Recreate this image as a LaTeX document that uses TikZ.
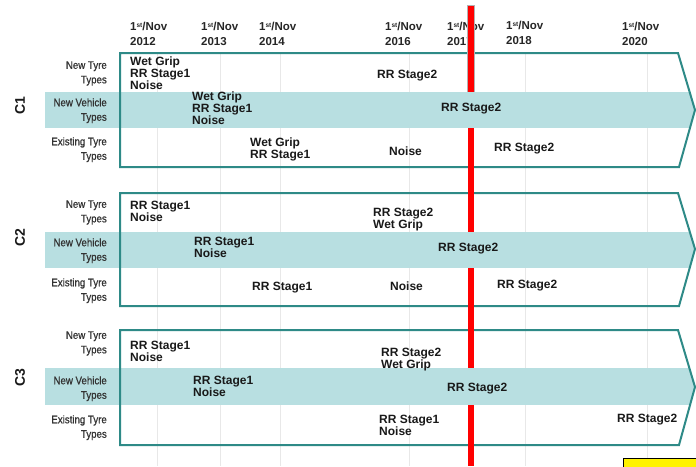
\documentclass[tikz,border=0pt]{standalone}
\usepackage{fontspec}
\setmainfont{Liberation Sans}
\newfontfamily\narrowfont[FakeStretch=0.88,FakeBold=0.8]{Liberation Sans}
\definecolor{tealline}{HTML}{2E8A87}
\definecolor{bandcol}{HTML}{B8DFE1}
\tikzset{
 content/.style={anchor=north west, inner sep=0pt, align=left, font=\fontsize{12}{11.8}\selectfont\bfseries, text=black!90},
 rowlab/.style={anchor=north east, inner sep=0pt, align=right, font=\narrowfont\fontsize{11}{14.5}\selectfont, text=black!80},
 datelab/.style={anchor=north west, inner sep=0pt, align=left, font=\fontsize{11.5}{15}\selectfont\bfseries, text=black!85},
 clab/.style={rotate=90, inner sep=0pt, font=\fontsize{14}{14}\selectfont\bfseries, text=black!90},
 arrowbox/.style={draw=tealline, line width=2pt, line join=miter},
 bandfill/.style={fill=bandcol},
 gridline/.style={draw=black!9, line width=1pt},
 redbar/.style={fill=red},
}
\newcommand{\dt}[1]{1\raisebox{2.6pt}{\fontsize{6.5}{6.5}\selectfont st}/Nov\\#1}
\begin{document}
\begin{tikzpicture}[x=1pt,y=-1pt]
\useasboundingbox (0,0) rectangle (696,466);
% grid lines
\foreach \gx in {157,220,280,409,525,647}{
  \draw[gridline] (\gx,53) -- (\gx,466);
}
% dates
\node[datelab] (d2012) at (130,21.9) {\dt{2012}};
\node[datelab] (d2013) at (201,21.9) {\dt{2013}};
\node[datelab] (d2014) at (259,21.9) {\dt{2014}};
\node[datelab] (d2016) at (385,21.9) {\dt{2016}};
\node[datelab] (d2017) at (447,21.9) {\dt{2017}};
\node[datelab] (d2018) at (506,20.9) {\dt{2018}};
\node[datelab] (d2020) at (622,21.9) {\dt{2020}};
% boxes and bands
\foreach \t/\bt/\bb/\b/\m in {53/92/128/167/110, 193/232/268/306/249, 330/368/405/445/387}{
  \begin{scope}
    \clip (120,\t) -- (678,\t) -- (695,\m) -- (679,\b) -- (120,\b) -- cycle;
    \fill[bandfill] (100,\bt) rectangle (700,\bb);
  \end{scope}
  \fill[bandfill] (45,\bt) rectangle (121,\bb);
  \draw[arrowbox] (120,\t) -- (678,\t) -- (695,\m) -- (679,\b) -- (120,\b) -- cycle;
}
% red line (hidden behind bands)
\fill[redbar] (467.5,5) rectangle (474,92);
\fill[redbar] (467.5,128) rectangle (474,232);
\fill[redbar] (467.5,268) rectangle (474,368);
\fill[redbar] (467.5,405) rectangle (474,466);
\draw[black!30, line width=0.5pt] (467.5,92) -- (467.5,5) -- (474,5) -- (474,92);
% C labels
\node[clab] (c1) at (20,106) {C1};
\node[clab] (c2) at (20,238) {C2};
\node[clab] (c3) at (20,378) {C3};
% row labels
\node[rowlab] (r1a) at (107,61.1) {New Tyre\\Types};
\node[rowlab] (r1b) at (107,98.1) {New Vehicle\\Types};
\node[rowlab] (r1c) at (107,137.1) {Existing Tyre\\Types};
\node[rowlab] (r2a) at (107,200.1) {New Tyre\\Types};
\node[rowlab] (r2b) at (107,238.1) {New Vehicle\\Types};
\node[rowlab] (r2c) at (107,278.1) {Existing Tyre\\Types};
\node[rowlab] (r3a) at (107,331.1) {New Tyre\\Types};
\node[rowlab] (r3b) at (107,376.1) {New Vehicle\\Types};
\node[rowlab] (r3c) at (107,415.1) {Existing Tyre\\Types};
% C1 contents
\node[content] (t1a) at (130,56.7) {Wet Grip\\RR Stage1\\Noise};
\node[content] (t1b) at (377,69.7) {RR Stage2};
\node[content] (b1a) at (192,91.7) {Wet Grip\\RR Stage1\\Noise};
\node[content] (b1b) at (441,102.7) {RR Stage2};
\node[content] (e1a) at (250,137.7) {Wet Grip\\RR Stage1};
\node[content] (e1b) at (389,146.2) {Noise};
\node[content] (e1c) at (494,143.2) {RR Stage2};
% C2 contents
\node[content] (t2a) at (130,200.7) {RR Stage1\\Noise};
\node[content] (t2b) at (373,207.7) {RR Stage2\\Wet Grip};
\node[content] (b2a) at (194,236.7) {RR Stage1\\Noise};
\node[content] (b2b) at (438,242.7) {RR Stage2};
\node[content] (e2a) at (252,282.2) {RR Stage1};
\node[content] (e2b) at (390,281.2) {Noise};
\node[content] (e2c) at (497,279.7) {RR Stage2};
% C3 contents
\node[content] (t3a) at (130,341.2) {RR Stage1\\Noise};
\node[content] (t3b) at (381,347.7) {RR Stage2\\Wet Grip};
\node[content] (b3a) at (193,375.7) {RR Stage1\\Noise};
\node[content] (b3b) at (447,382.7) {RR Stage2};
\node[content] (e3a) at (379,414.7) {RR Stage1\\Noise};
\node[content] (e3b) at (617,413.7) {RR Stage2};
% yellow box (partly visible)
\draw[black, line width=1.8pt, fill=yellow] (623.5,458.5) rectangle (710,480);
\end{tikzpicture}
\end{document}
